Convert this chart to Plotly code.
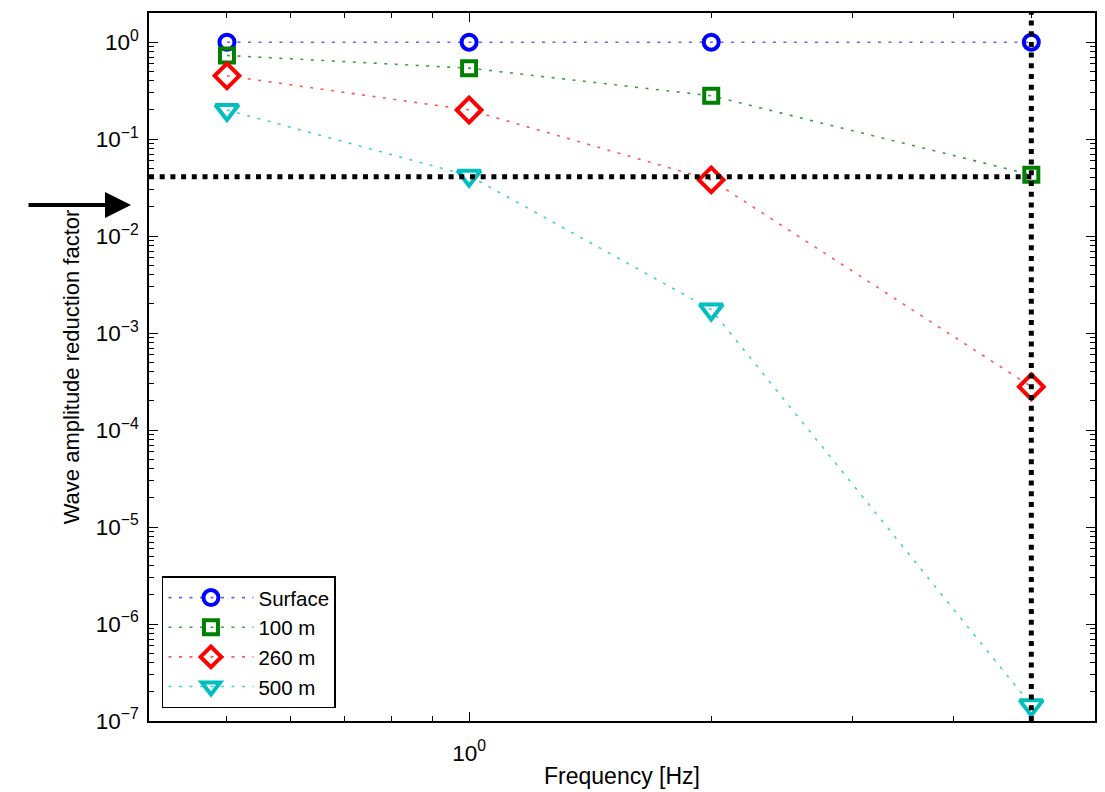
import numpy as np
import plotly.graph_objects as go

# ---- data ----
freq = [0.5, 1.0, 2.0, 5.0]
surface = [1.0, 1.0, 1.0, 1.0]
d100 = [0.73, 0.54, 0.28, 0.043]
d260 = [0.45, 0.20, 0.038, 2.8e-4]
d500 = [0.20, 0.042, 1.75e-3, 1.45e-7]
series_names = ["Surface", "100 m", "260 m", "500 m"]
threshold = 0.041
cutoff_freq = 5.0
arrow_level = 0.021

x_range = [0.4, 6.0]
y_range = [1e-7, 2.0]

y_major = [1e-7, 1e-6, 1e-5, 1e-4, 1e-3, 1e-2, 1e-1, 1e0]
y_major_text = ["10<sup>−7</sup>", "10<sup>−6</sup>", "10<sup>−5</sup>", "10<sup>−4</sup>",
                "10<sup>−3</sup>", "10<sup>−2</sup>", "10<sup>−1</sup>", "10<sup>0</sup>"]
x_major = [1.0]
x_major_text = ["10<sup>0</sup>"]
x_minor = [0.4, 0.5, 0.6, 0.7, 0.8, 0.9, 2, 3, 4, 5, 6]
y_minor = [m * 10.0 ** e for e in range(-7, 1) for m in range(2, 10)]

FONT = "Liberation Sans, Arial, Helvetica, sans-serif"

styles = [
    dict(color="rgb(0,0,255)", line="rgba(80,80,255,0.9)", symbol="circle-open", size=15),
    dict(color="rgb(0,128,0)", line="rgba(40,150,40,0.9)", symbol="square-open", size=14),
    dict(color="rgb(255,0,0)", line="rgba(255,70,70,0.9)", symbol="diamond-open", size=19),
    dict(color="rgb(0,191,191)", line="rgba(50,200,200,0.9)", symbol="triangle-down-open", size=20),
]

fig = go.Figure()
for name, ys, st in zip(series_names, [surface, d100, d260, d500], styles):
    fig.add_trace(go.Scatter(
        x=freq, y=ys, name=name, mode="lines+markers",
        line=dict(color=st["line"], width=1.6, dash="3px,7.5px"),
        marker=dict(symbol=st["symbol"], size=st["size"], color=st["color"],
                    line=dict(width=4, color=st["color"])),
    ))

# threshold lines (black, thick dotted)
fig.add_trace(go.Scatter(
    x=[x_range[0], cutoff_freq], y=[threshold, threshold], mode="lines",
    line=dict(color="black", width=5, dash="5px,5.7px"), showlegend=False, hoverinfo="skip"))
fig.add_trace(go.Scatter(
    x=[cutoff_freq, cutoff_freq], y=[y_range[0], y_range[1]], mode="lines",
    line=dict(color="black", width=5, dash="5px,5.7px"), showlegend=False, hoverinfo="skip"))

fig.add_annotation(
    x=-0.019, y=np.log10(arrow_level), xref="paper", yref="y",
    ax=-104, ay=0, axref="pixel", ayref="pixel",
    showarrow=True, arrowhead=2, arrowsize=1.3, arrowwidth=4, arrowcolor="black",
    text="")

axis_common = dict(
    type="log", showgrid=False, zeroline=False, showline=True, linecolor="black",
    linewidth=1.5, mirror="ticks", ticks="inside", tickcolor="black", ticklen=9,
    tickwidth=1, tickfont=dict(family=FONT, size=22.5, color="black"),
    automargin=False,
)

fig.update_xaxes(
    **axis_common, range=[np.log10(x_range[0]), np.log10(x_range[1])],
    tickmode="array", tickvals=x_major, ticktext=x_major_text,
    minor=dict(tickmode="array", tickvals=x_minor, ticks="inside", ticklen=5,
               tickcolor="black", tickwidth=1),
    title=dict(text="Frequency [Hz]", font=dict(family=FONT, size=23, color="black"), standoff=3),
    ticklabelstandoff=11,
)
fig.update_yaxes(
    **axis_common, range=[np.log10(y_range[0]), np.log10(y_range[1])],
    tickmode="array", tickvals=y_major, ticktext=y_major_text,
    minor=dict(tickmode="array", tickvals=y_minor, ticks="inside", ticklen=5,
               tickcolor="black", tickwidth=1),
    title=dict(text="Wave amplitude reduction factor", font=dict(family=FONT, size=22, color="black"),
               standoff=10),
    ticklabelstandoff=4,
)

fig.update_layout(
    width=1105, height=792,
    margin=dict(l=149, r=10, t=13, b=71),
    paper_bgcolor="white", plot_bgcolor="white",
    showlegend=True,
    legend=dict(x=0.0137, y=0.018, xanchor="left", yanchor="bottom",
                bgcolor="white", bordercolor="black", borderwidth=1.5,
                font=dict(family=FONT, size=20.5, color="black"),
                itemwidth=85, tracegroupgap=0),
)

fig.write_html("out.html")
